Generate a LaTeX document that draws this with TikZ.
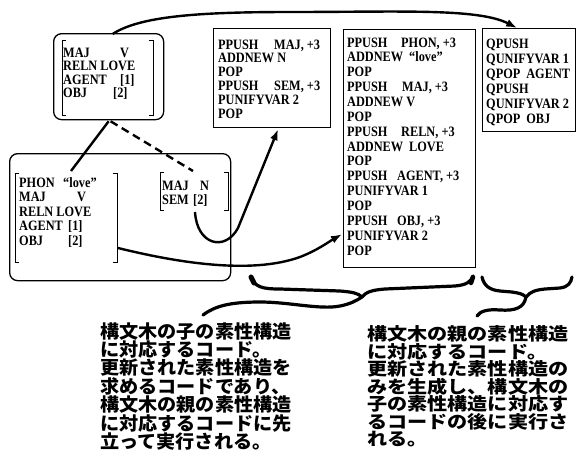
\documentclass[tikz,border=0pt]{standalone}
\usepackage{fontspec}
\setmainfont{Liberation Serif}
\newfontfamily\codefont{Liberation Serif}[FakeStretch=0.86]
\newfontfamily\cjkl{Noto Sans CJK JP}[FakeStretch=1.04]
\newfontfamily\cjkr{Noto Sans CJK JP}[FakeStretch=1.15]
\usetikzlibrary{arrows.meta,calc}
\tikzset{
  codebox/.style={draw, line width=1.2pt, inner sep=0pt},
  fsbox/.style={draw, line width=1.3pt, rounded corners=8pt, inner sep=0pt},
  codetext/.style={anchor=base west, inner sep=0pt, font=\codefont\fontsize{14.3}{14}\selectfont\bfseries},
  jtext/.style={anchor=base west, inner sep=0pt},
  brk/.style={line width=1pt},
  conn/.style={line width=2.4pt},
  arr/.style={line width=2.4pt, -{Latex[length=11pt,width=8pt]}},
  brace/.style={line width=3.2pt, line cap=round, line join=round},
}
\begin{document}
\begin{tikzpicture}[x=1pt,y=-1pt]
\useasboundingbox[fill=white] (0,0) rectangle (576,459);

% ---- feature structure boxes
\node[fsbox, minimum width=110pt, minimum height=86pt, anchor=north west] (TL) at (53,33) {};
\node[fsbox, minimum width=221pt, minimum height=127pt, anchor=north west] (BG) at (9,153) {};

% ---- code boxes
\node[codebox, minimum width=117pt, minimum height=99pt, anchor=north west] (A) at (213,28) {};
\node[codebox, minimum width=132pt, minimum height=238pt, anchor=north west] (B) at (343,29) {};
\node[codebox, minimum width=93pt, minimum height=103pt, anchor=north west] (C) at (482,28) {};

% ---- brackets
\draw[brk] (66,40) -- (62,40) -- (62,115) -- (66,115);
\draw[brk] (149,40) -- (153,40) -- (153,115) -- (149,115);
\draw[brk] (19,173) -- (15,173) -- (15,262) -- (19,262);
\draw[brk] (113,173) -- (117,173) -- (117,262) -- (113,262);
\draw[brk] (164,172) -- (160,172) -- (160,210) -- (164,210);
\draw[brk] (224,172) -- (228,172) -- (228,210) -- (224,210);

% ---- AVM texts
\foreach \t [count=\i] in {{\makebox[57pt][l]{MAJ}V},{RELN LOVE},{\makebox[57pt][l]{AGENT}[1]},{\makebox[50pt][l]{OBJ}[2]}}
  \node[codetext] (tl\i) at (63,{57+13.5*(\i-1)}) {\t};
\foreach \t [count=\i] in {{\makebox[44pt][l]{PHON}“love”},{\makebox[58pt][l]{MAJ}V},{RELN LOVE},{\makebox[49pt][l]{AGENT}[1]},{\makebox[49pt][l]{OBJ}[2]}}
  \node[codetext] (bl\i) at (19,{187+14.5*(\i-1)}) {\t};
\foreach \t [count=\i] in {{\makebox[38pt][l]{MAJ}N},{\makebox[31pt][l]{SEM}[2]}}
  \node[codetext] (br\i) at (162,{190+14.5*(\i-1)}) {\t};

% ---- code texts
\foreach \t [count=\i] in {{\makebox[56pt][l]{PPUSH}MAJ, +3},{ADDNEW N},{POP},{\makebox[56pt][l]{PPUSH}SEM, +3},{PUNIFYVAR 2},{POP}}
  \node[codetext] (a\i) at (218,{49+13.9*(\i-1)}) {\t};
\foreach \t [count=\i] in {{\makebox[54pt][l]{PPUSH}PHON, +3},{\makebox[62pt][l]{ADDNEW}“love”},{POP},{\makebox[55pt][l]{PPUSH}MAJ, +3},{ADDNEW V},{POP},{\makebox[54pt][l]{PPUSH}RELN, +3},{\makebox[62pt][l]{ADDNEW}LOVE},{POP},{\makebox[50pt][l]{PPUSH}AGENT, +3},{PUNIFYVAR 1},{POP},{\makebox[50pt][l]{PPUSH}OBJ, +3},{PUNIFYVAR 2},{POP}}
  \node[codetext] (b\i) at (347,{47+14.86*(\i-1)}) {\t};
\foreach \t [count=\i] in {{QPUSH},{QUNIFYVAR 1},{QPOP\hspace{6pt}AGENT},{QPUSH},{QUNIFYVAR 2},{QPOP\hspace{6pt}OBJ}}
  \node[codetext] (c\i) at (486,{48+15*(\i-1)}) {\t};

% ---- connectors
\coordinate (avmL) at (71,171);
\coordinate (avmR) at (193,171);
\coordinate (semS) at (195,212);
\coordinate (avmLr) at (118,248);
\draw[arr] ($(TL.north)+(4,1)$) .. controls (140,16) and (200,12) .. (290,12)
   .. controls (400,12) and (478,8) .. ($(C.north)+(-12,0)$);
\draw[conn] ($(TL.south)+(0,1)$) -- (avmL);
\draw[conn, dash pattern=on 8pt off 5pt] ($(TL.south)+(2,1)$) -- (avmR);
\draw[arr] (semS) .. controls (197,245) and (225,252) .. (238,228) -- ($(A.south)+(6,1)$);
\draw[arr] (avmLr) .. controls (175,262) and (250,275) .. (300,257)
   .. controls (318,250) and (330,241) .. ($(B.south west)+(-1,-34)$);

% ---- braces
\draw[brace] (251,277) .. controls (255,287) and (262,289) .. (280,289) -- (340,291)
   .. controls (352,292) and (358,293) .. (362,297)
   .. controls (366,292) and (372,290) .. (385,289) -- (455,286)
   .. controls (466,285) and (471,282) .. (473,276);
\draw[brace] (362,297) .. controls (356,301) and (350,304) .. (340,306)
   .. controls (320,310) and (290,302) .. (260,302)
   .. controls (230,302) and (215,306) .. (203,315);
\draw[line width=5pt, line cap=round] (251,277) -- (254,283);
\draw[line width=4.5pt, line cap=round] (473,277) -- (471,283);
\draw[brace] (482,277) .. controls (484,286) and (490,290) .. (500,291) -- (512,292)
   .. controls (519,293) and (523,294) .. (526,297)
   .. controls (530,292) and (535,290) .. (545,289) -- (560,288)
   .. controls (568,287) and (571,283) .. (572,277);
\draw[brace] (526,297) .. controls (524,308) and (515,311) .. (500,310)
   .. controls (488,309) and (480,311) .. (477,316);

% ---- Japanese texts
\foreach \t [count=\i] in {構文木の子の素性構造,に対応するコード。,更新された素性構造を,求めるコードであり、,構文木の親の素性構造,に対応するコードに先,立って実行される。}
  \node[jtext, font=\cjkl\bfseries\fontsize{18.4}{19}\selectfont] (jl\i) at (100,{338+18.4*(\i-1)}) {\t};
\foreach \t [count=\i] in {構文木の親の素性構造,に対応するコード。,更新された素性構造の,みを生成し、構文木の,子の素性構造に対応す,るコードの後に実行さ,れる。}
  \node[jtext, font=\cjkr\bfseries\fontsize{17.5}{19}\selectfont] (jr\i) at (367,{340.5+17.5*(\i-1)}) {\t};
\end{tikzpicture}
\end{document}
